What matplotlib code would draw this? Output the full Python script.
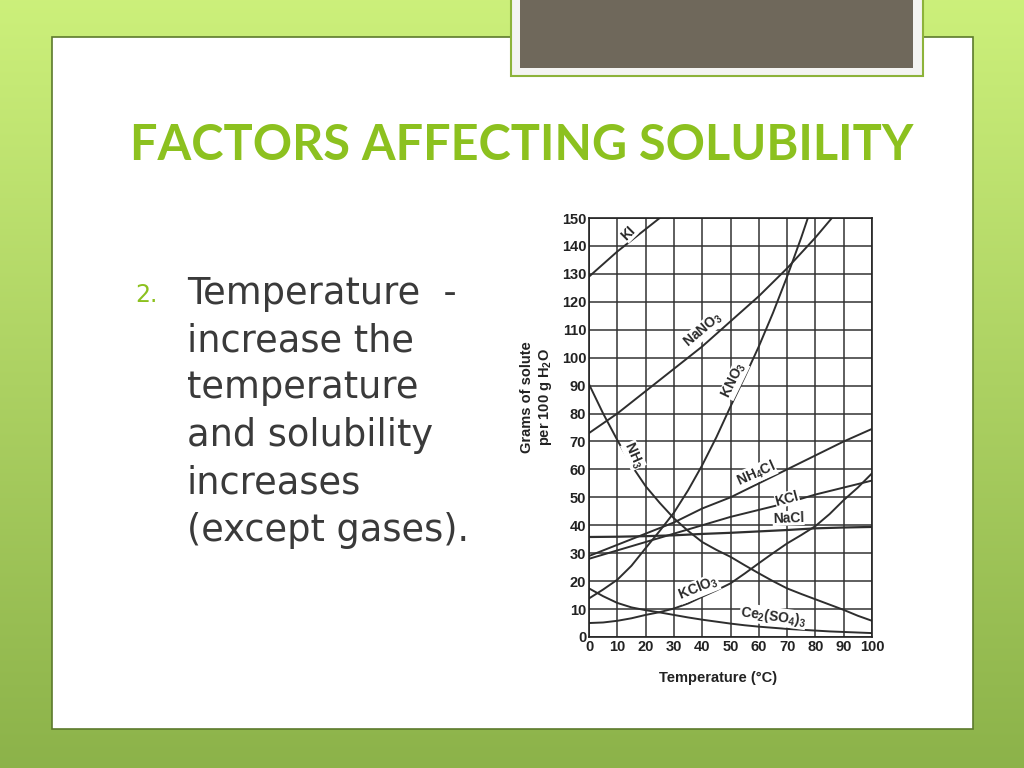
import matplotlib
matplotlib.use("Agg")
import matplotlib.pyplot as plt
import numpy as np
from matplotlib.patches import Rectangle

plt.rcParams['font.family'] = ['Liberation Sans', 'DejaVu Sans']
plt.rcParams['mathtext.default'] = 'regular'

############################################
# DATOS
temp = [0, 10, 20, 30, 40, 50, 60, 70, 80, 90, 100]
temp5 = [0, 5, 10, 15, 20, 25, 30, 35, 40, 45, 50, 55, 60, 65, 70, 75, 80, 85, 90, 95, 100]
KI = [129, 138, 146, 154]
NaNO3 = [73, 80, 88, 96, 104, 113, 122, 132, 143, 155]
KNO3 = [13.8, 17, 20.5, 25.5, 31.8, 38, 44.5, 52.5, 61.5, 71.5, 82.5,
        93, 104, 116, 129, 143, 158]
NH3 = [90.5, 80, 70.5, 61.5, 54, 48, 42.5, 38, 34, 31.2, 28.7,
       25.7, 22.8, 20, 17.4, 15.4, 13.5, 11.6, 9.7, 7.6, 5.8]
NH4Cl = [29, 33, 37, 41, 46, 50, 55, 60, 65, 70, 74.5]
KCl = [28, 31, 34, 37, 40, 43, 45.5, 48, 51, 53.5, 56]
NaCl = [35.8, 35.9, 36.1, 36.4, 36.9, 37.3, 37.8, 38.3, 38.9, 39.2, 39.4]
KClO3 = [5, 5.2, 5.8, 6.7, 7.9, 8.9, 10.2, 12, 14.4, 16.7, 19.2,
         22.7, 26.4, 30, 33.5, 36.5, 39.7, 44, 49, 53.5, 58.6]
Ce2SO43 = [17.4, 14.6, 12.2, 10.6, 9.6, 8.8, 7.9, 7.0, 6.2, 5.5, 4.8,
           4.2, 3.7, 3.3, 2.9, 2.6, 2.3, 2.0, 1.8, 1.6, 1.4]

xticks = list(range(0, 101, 10))
yticks = list(range(0, 151, 10))

titulo = "FACTORS AFFECTING SOLUBILITY"
texto = ["Temperature  -", "increase the", "temperature",
         "and solubility", "increases", "(except gases)."]
############################################

fig = plt.figure(figsize=(10.24, 7.68), dpi=100)

# fondo de la diapositiva (pixeles)
bg = fig.add_axes([0, 0, 1, 1])
bg.set_xlim(0, 1024)
bg.set_ylim(768, 0)
bg.axis('off')
grad = np.linspace(0, 1, 256).reshape(-1, 1)
top = np.array([0.80, 0.94, 0.48])
bot = np.array([0.55, 0.70, 0.29])
img = top + (bot - top) * grad[:, :, None] * np.ones((1, 1, 3))
bg.imshow(img, extent=[0, 1024, 768, 0], aspect='auto', zorder=0)

bg.add_patch(Rectangle((52, 37), 921, 692, facecolor='white',
                       edgecolor='#5c7a2c', lw=1.2, zorder=1))
bg.add_patch(Rectangle((511, -5), 412, 81, facecolor='#f4f4f2',
                       edgecolor='#8db33a', lw=1.5, zorder=2))
bg.add_patch(Rectangle((520, -5), 393, 73, facecolor='#6f685b',
                       edgecolor='none', zorder=3))

bg.text(130, 145, titulo, color='#8cc11f', fontsize=35, fontweight='bold',
        family=['Lato', 'DejaVu Sans'], va='center', ha='left', zorder=4)
bg.text(135, 295, "2.", color='#8cc11f', fontsize=17,
        family=['DejaVu Sans'], va='center', ha='left', zorder=4)
for i, linea in enumerate(texto):
    bg.text(187, 293 + i * 47.5, linea, color='#3a3a3a', fontsize=26.5,
            family=['DejaVu Sans'], va='center', ha='left', zorder=4)

############################################
# GRAFICA DE SOLUBILIDAD
ax = fig.add_axes([589 / 1024, (768 - 637) / 768, 283 / 1024, 419 / 768])
ax.set_facecolor('white')
ax.set_xlim(0, 100)
ax.set_ylim(0, 150)
ax.set_xticks(xticks)
ax.set_yticks(yticks)
ax.grid(True, color='#333333', lw=1.1)
ax.set_axisbelow(True)
ax.tick_params(length=0, pad=2, colors='#222222')
for lab in ax.get_xticklabels() + ax.get_yticklabels():
    lab.set_fontweight('bold')
    lab.set_fontsize(10.5)
for s in ax.spines.values():
    s.set_color('#222222')
    s.set_linewidth(1.2)

c = '#2e2e2e'
ax.plot(temp[:len(KI)], KI, color=c, lw=1.4)
ax.plot(temp[:len(NaNO3)], NaNO3, color=c, lw=1.4)
ax.plot(temp5[:len(KNO3)], KNO3, color=c, lw=1.4)
ax.plot(temp5, NH3, color=c, lw=1.4)
ax.plot(temp, NH4Cl, color=c, lw=1.4)
ax.plot(temp, KCl, color=c, lw=1.4)
ax.plot(temp, NaCl, color=c, lw=1.6)
ax.plot(temp5, KClO3, color=c, lw=1.4)
ax.plot(temp5, Ce2SO43, color=c, lw=1.4)

etiquetas = [
    ("KI", 14, 144.5, 45),
    ("NaNO$_3$", 40.5, 110, 40),
    ("KNO$_3$", 51.3, 92, 64),
    ("NH$_3$", 15.7, 65, -66),
    ("NH$_4$Cl", 59, 58.5, 24),
    ("KCl", 70, 49.5, 15),
    ("NaCl", 70.5, 42.5, 2),
    ("KClO$_3$", 38.7, 17.4, 22),
    ("Ce$_2$(SO$_4$)$_3$", 65, 7.4, -8),
]
for t, x, y, r in etiquetas:
    ax.text(x, y, t, rotation=r, ha='center', va='center', fontsize=10,
            fontweight='bold', color='#2a2a2a', rotation_mode='anchor',
            bbox=dict(facecolor='white', edgecolor='none', pad=0.2))

fig.text(718 / 1024, 1 - 678 / 768, "Temperature (°C)", ha='center',
         va='center', fontsize=10.5, fontweight='bold', color='#222222')
fig.text(527 / 1024, 1 - 397 / 768, "Grams of solute", rotation=90,
         ha='center', va='center', fontsize=10.5, fontweight='bold', color='#222222')
fig.text(546 / 1024, 1 - 397 / 768, "per 100 g H$_2$O", rotation=90,
         ha='center', va='center', fontsize=10.5, fontweight='bold', color='#222222')

fig.savefig("out.png", dpi=100)
